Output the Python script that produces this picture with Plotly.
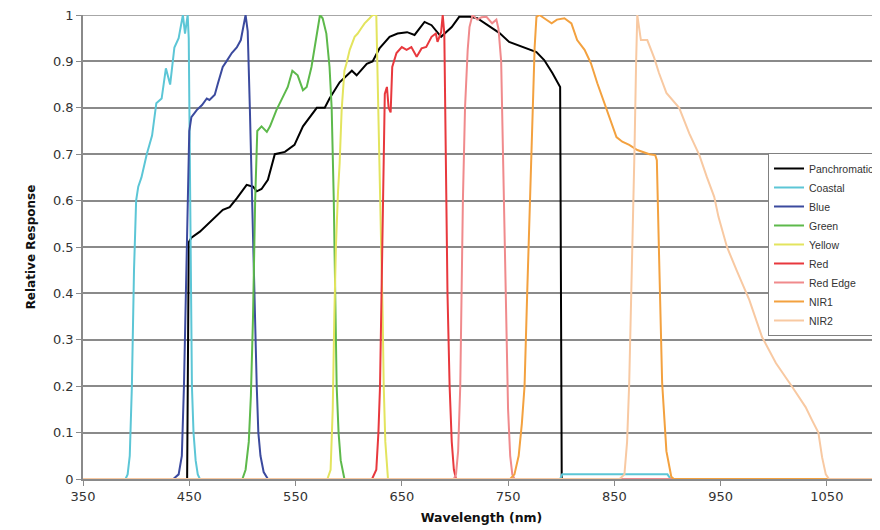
import plotly.graph_objects as go

# ---- data (wavelength in nm, relative response) ----
pan_nm = [350, 448, 449.5, 452, 460, 466.5, 474, 481.6, 488, 494.7, 504, 510, 513.5, 518, 524, 530.5, 540, 549, 557, 570, 577.5, 582, 591.5, 594, 603, 607.5, 617, 622.5, 629, 638.5, 646, 655, 662, 671.4, 678, 687, 697, 704, 714, 721, 733, 742, 751, 763.5, 776.7, 784, 791.7, 799, 800.5, 1100]
pan_resp = [0, 0, 0.51, 0.52, 0.533, 0.547, 0.565, 0.58, 0.586, 0.605, 0.634, 0.63, 0.62, 0.625, 0.645, 0.70, 0.705, 0.72, 0.76, 0.80, 0.80, 0.82, 0.855, 0.86, 0.88, 0.87, 0.895, 0.90, 0.928, 0.953, 0.96, 0.963, 0.957, 0.985, 0.978, 0.953, 0.974, 0.996, 0.996, 0.993, 0.974, 0.961, 0.942, 0.931, 0.92, 0.903, 0.875, 0.845, 0, 0]

coastal_nm = [350, 390, 392, 394, 396, 398, 400, 402, 405, 410, 415, 419, 424, 428, 432, 436, 440, 444, 446, 448.5, 449.5, 450.5, 451.5, 452.5, 454, 456, 458, 460, 799, 801, 900, 903, 1100]
coastal_resp = [0, 0, 0.01, 0.05, 0.2, 0.45, 0.6, 0.63, 0.65, 0.70, 0.74, 0.81, 0.82, 0.885, 0.85, 0.93, 0.95, 1.0, 0.96, 1.0, 0.95, 0.7, 0.4, 0.2, 0.1, 0.04, 0.01, 0, 0, 0.01, 0.01, 0, 0]

blue_nm = [350, 435, 440, 443, 445, 447, 448.5, 450, 452, 457, 462, 466.5, 469, 474, 477, 481.5, 485, 490, 494.7, 498.5, 503, 505, 507, 509, 510.5, 512, 513.5, 515, 517, 520, 524, 1100]
blue_resp = [0, 0, 0.01, 0.05, 0.2, 0.4, 0.6, 0.75, 0.78, 0.795, 0.806, 0.82, 0.817, 0.828, 0.853, 0.888, 0.90, 0.918, 0.93, 0.946, 1.0, 0.965, 0.8, 0.6, 0.45, 0.3, 0.2, 0.1, 0.05, 0.015, 0, 0]

green_nm = [350, 500, 503, 506, 508, 510, 512, 514, 518, 523, 526, 532, 538, 542.7, 547, 552, 557, 560.5, 565, 570, 573, 575.5, 579, 582, 584, 586, 587, 588.7, 590.5, 592.5, 596, 1100]
green_resp = [0, 0, 0.02, 0.08, 0.18, 0.35, 0.6, 0.75, 0.76, 0.748, 0.76, 0.795, 0.823, 0.845, 0.88, 0.87, 0.838, 0.845, 0.888, 0.96, 1.0, 0.993, 0.96, 0.888, 0.8, 0.6, 0.4, 0.2, 0.1, 0.04, 0, 0]

yellow_nm = [350, 580, 583, 585, 586.5, 588, 590, 591.5, 593.4, 596, 598, 601, 605.6, 608.5, 612, 615, 619.7, 622.5, 626, 627, 629, 630, 631, 632, 633, 634.5, 637, 1100]
yellow_resp = [0, 0, 0.02, 0.15, 0.35, 0.5, 0.62, 0.68, 0.795, 0.88, 0.896, 0.925, 0.953, 0.96, 0.972, 0.982, 0.993, 1.0, 1.0, 0.89, 0.745, 0.6, 0.45, 0.35, 0.2, 0.08, 0, 0]

red_nm = [350, 622, 626, 628, 629.5, 631, 632.5, 634, 636, 637.6, 639.5, 641, 645, 650, 654.5, 659, 664, 668.6, 673, 678, 682, 683.6, 687, 688.5, 690, 691, 692, 693, 695, 697, 699, 701, 1100]
red_resp = [0, 0, 0.02, 0.1, 0.2, 0.4, 0.6, 0.83, 0.845, 0.80, 0.79, 0.888, 0.918, 0.931, 0.925, 0.931, 0.91, 0.928, 0.931, 0.953, 0.96, 0.942, 0.963, 1.0, 0.96, 0.8, 0.6, 0.4, 0.2, 0.08, 0.02, 0, 0]

rededge_nm = [350, 699, 701, 703, 705, 706, 707.5, 709.5, 712, 713.7, 716.5, 721, 725, 729.7, 735, 739, 741, 743.5, 745.5, 747, 748.5, 750, 752, 754, 756, 1100]
rededge_resp = [0, 0, 0.01, 0.06, 0.2, 0.4, 0.6, 0.8, 0.925, 0.974, 1.0, 0.99, 0.995, 0.996, 0.982, 0.99, 0.97, 0.9, 0.65, 0.45, 0.3, 0.15, 0.05, 0.01, 0, 0]

nir1_nm = [350, 752, 756, 760, 763, 765.5, 768, 770.5, 773, 775, 776.7, 779.5, 784, 791, 796, 803, 809.6, 815, 822, 828, 834, 840.6, 847, 852, 857.5, 864, 871.6, 876, 883, 888.5, 890, 892, 895, 899, 903.6, 906, 1100]
nir1_resp = [0, 0, 0.01, 0.05, 0.12, 0.2, 0.4, 0.6, 0.8, 0.93, 0.996, 1.0, 0.993, 0.982, 0.99, 0.993, 0.982, 0.946, 0.925, 0.896, 0.853, 0.81, 0.767, 0.737, 0.727, 0.72, 0.709, 0.705, 0.70, 0.698, 0.687, 0.49, 0.207, 0.06, 0.005, 0, 0]

nir2_nm = [350, 855, 859.5, 862, 864, 867, 869, 870.5, 871.6, 875, 881, 887.6, 892, 899, 906, 911, 920.5, 930, 937, 944, 948, 956, 965, 977, 989, 1002, 1017, 1030, 1036, 1042, 1045.5, 1049, 1052, 1100]
nir2_resp = [0, 0, 0.01, 0.08, 0.207, 0.49, 0.71, 0.9, 1.0, 0.946, 0.946, 0.907, 0.875, 0.832, 0.812, 0.80, 0.745, 0.698, 0.651, 0.608, 0.565, 0.5, 0.45, 0.386, 0.306, 0.25, 0.2, 0.155, 0.127, 0.1, 0.047, 0.01, 0, 0]

band_names = ["Panchromatic", "Coastal", "Blue", "Green", "Yellow", "Red", "Red Edge", "NIR1", "NIR2"]
band_colors = ["#000000", "#5cc6d6", "#3b4a9e", "#5db94b", "#e3e45e", "#e8383d", "#f08a8c", "#f3a13f", "#f8c9a2"]
band_x = [pan_nm, coastal_nm, blue_nm, green_nm, yellow_nm, red_nm, rededge_nm, nir1_nm, nir2_nm]
band_y = [pan_resp, coastal_resp, blue_resp, green_resp, yellow_resp, red_resp, rededge_resp, nir1_resp, nir2_resp]

x_ticks = [350, 450, 550, 650, 750, 850, 950, 1050]
y_ticks = [0, 0.1, 0.2, 0.3, 0.4, 0.5, 0.6, 0.7, 0.8, 0.9, 1]

fig = go.Figure()
for name, color, xs, ys in zip(band_names, band_colors, band_x, band_y):
    fig.add_trace(go.Scatter(x=xs, y=ys, mode="lines", name=name,
                             line=dict(color=color, width=2)))

# the page body has an 8px margin, so margins are offset to land the plot
# area at the same place as in the reference picture
font_family = "DejaVu Sans, Liberation Sans, Arial, sans-serif"
fig.update_layout(
    width=880, height=530,
    margin=dict(l=75, r=8, t=7, b=59, autoexpand=False),
    paper_bgcolor="white", plot_bgcolor="white",
    font=dict(family=font_family, size=12, color="#333333"),
    legend=dict(x=0.8595, y=0.7026, xanchor="left", yanchor="top",
                bgcolor="white", bordercolor="#808080", borderwidth=1,
                font=dict(family="Liberation Sans, Arial, sans-serif", size=10.5, color="#333333"),
                tracegroupgap=0),
    showlegend=True,
)
fig.update_xaxes(
    range=[350, 1100], tickvals=x_ticks, ticktext=[str(v) for v in x_ticks],
    showgrid=False, zeroline=False, automargin=False,
    showline=True, linecolor="#8a8a8a", linewidth=1.5,
    ticks="outside", ticklen=5, tickcolor="#8a8a8a",
    tickfont=dict(size=13, color="#333333"), ticklabeloverflow="allow",
    title=dict(text="<b>Wavelength (nm)</b>", font=dict(size=12.5, color="#111111"), standoff=10),
)
fig.update_yaxes(
    range=[0, 1], tickvals=y_ticks, ticktext=[("%g" % v) for v in y_ticks],
    showgrid=True, gridcolor="#8a8a8a", gridwidth=1.5, zeroline=False, automargin=False,
    showline=True, linecolor="#8a8a8a", linewidth=1.5, mirror=False,
    ticks="outside", ticklen=5, tickcolor="#8a8a8a",
    tickfont=dict(size=13, color="#333333"), ticklabeloverflow="allow",
    title=dict(text="<b>Relative Response</b>", font=dict(size=12, color="#111111"), standoff=15),
)
# top border of the plot area (gridline at 1.0)
fig.add_hline(y=1, line=dict(color="#8a8a8a", width=1.5), layer="below")

fig.write_html("out.html")
